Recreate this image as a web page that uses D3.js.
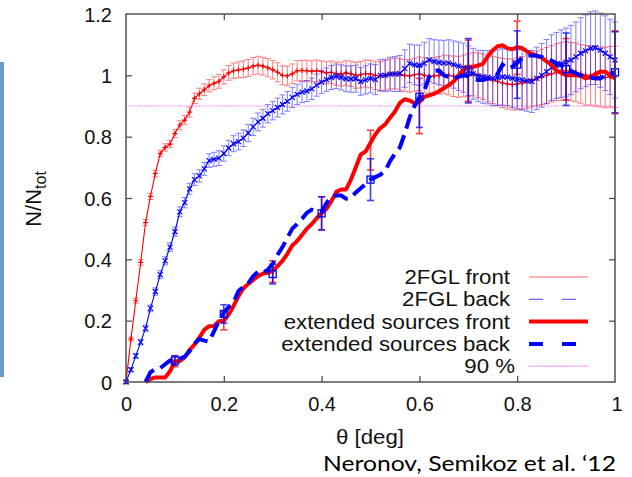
<!DOCTYPE html>
<html><head><meta charset="utf-8">
<script src="https://cdn.jsdelivr.net/npm/d3@7"></script>
<style>body{margin:0;background:#fff;overflow:hidden} svg{display:block}</style>
</head><body>
<script>
// ---------------- data ----------------
const theta = [0.00,0.01,0.02,0.03,0.04,0.05,0.06,0.07,0.08,0.09,
0.10,0.11,0.12,0.13,0.14,0.15,0.16,0.17,0.18,0.19,
0.20,0.21,0.22,0.23,0.24,0.25,0.26,0.27,0.28,0.29,
0.30,0.31,0.32,0.33,0.34,0.35,0.36,0.37,0.38,0.39,
0.40,0.41,0.42,0.43,0.44,0.45,0.46,0.47,0.48,0.49,
0.50,0.51,0.52,0.53,0.54,0.55,0.56,0.57,0.58,0.59,
0.60,0.61,0.62,0.63,0.64,0.65,0.66,0.67,0.68,0.69,
0.70,0.71,0.72,0.73,0.74,0.75,0.76,0.77,0.78,0.79,
0.80,0.81,0.82,0.83,0.84,0.85,0.86,0.87,0.88,0.89,
0.90,0.91,0.92,0.93,0.94,0.95,0.96,0.97,0.98,0.99,1.00];

const fglFront = [0,0.14,0.265,0.39,0.52,0.605,0.68,0.745,0.765,0.776,
0.81,0.838,0.854,0.88,0.925,0.94,0.953,0.966,0.974,0.98,
0.995,1.008,1.015,1.018,1.02,1.024,1.03,1.033,1.03,1.025,
1.018,1.01,1.0,0.998,1.005,1.015,1.016,1.015,1.013,1.015,
1.012,1.008,1.01,1.006,1.004,1.008,1.005,1.0,1.002,1.006,
1.004,1.0,0.997,1.0,1.004,1.006,1.003,1.0,0.998,1.002,
1.005,1.0,0.996,0.998,1.0,1.003,1.0,0.997,0.995,0.998,
1.0,1.004,1.0,0.996,0.99,0.985,0.98,0.975,0.972,0.97,
0.972,0.975,0.98,0.985,0.99,0.995,1.0,1.005,1.01,1.012,
1.015,1.012,1.01,1.005,1.0,1.0,0.998,0.995,0.993,0.995,0.995];

const fglFrontErr = [0.005,0.006,0.008,0.009,0.01,0.01,0.011,0.011,0.012,0.012,
0.013,0.014,0.015,0.016,0.017,0.018,0.019,0.02,0.021,0.022,
0.023,0.024,0.025,0.026,0.027,0.028,0.028,0.029,0.029,0.03,
0.03,0.031,0.031,0.032,0.032,0.033,0.033,0.034,0.034,0.035,
0.035,0.036,0.037,0.038,0.039,0.04,0.041,0.042,0.043,0.044,
0.045,0.046,0.047,0.048,0.049,0.05,0.051,0.052,0.053,0.054,
0.055,0.057,0.058,0.06,0.061,0.063,0.064,0.066,0.067,0.068,
0.07,0.071,0.073,0.074,0.076,0.077,0.079,0.08,0.082,0.083,
0.085,0.086,0.087,0.088,0.089,0.09,0.091,0.092,0.093,0.094,
0.095,0.095,0.096,0.096,0.097,0.097,0.098,0.098,0.099,0.099,0.1];

const fglBack = [0,0.04,0.085,0.13,0.175,0.24,0.295,0.35,0.395,0.44,
0.49,0.555,0.585,0.63,0.66,0.672,0.695,0.722,0.726,0.73,
0.745,0.763,0.777,0.784,0.795,0.812,0.832,0.848,0.86,0.875,
0.885,0.895,0.905,0.915,0.928,0.938,0.945,0.949,0.956,0.968,
0.978,0.986,0.993,0.997,0.993,0.989,0.988,0.989,0.98,0.985,
0.99,0.986,1.0,1.0,1.004,1.004,1.006,1.022,1.039,1.034,
1.033,1.04,1.05,1.045,1.042,1.04,1.04,1.035,1.03,1.025,
1.015,1.005,0.998,0.995,0.994,0.99,0.993,0.995,0.994,0.99,
0.987,0.985,0.982,0.98,0.99,1.0,1.012,1.025,1.032,1.038,
1.043,1.05,1.06,1.072,1.08,1.088,1.09,1.082,1.072,1.06,1.05];

const fglBackErr = [0.005,0.007,0.008,0.009,0.01,0.011,0.012,0.013,0.013,0.014,
0.015,0.016,0.017,0.018,0.019,0.02,0.021,0.022,0.023,0.024,
0.025,0.025,0.026,0.027,0.027,0.028,0.028,0.029,0.029,0.03,
0.03,0.031,0.031,0.032,0.033,0.033,0.034,0.034,0.035,0.036,
0.037,0.038,0.039,0.04,0.041,0.042,0.043,0.044,0.045,0.046,
0.047,0.049,0.051,0.053,0.055,0.057,0.059,0.061,0.063,0.065,
0.066,0.068,0.07,0.071,0.073,0.074,0.076,0.077,0.079,0.08,
0.081,0.083,0.084,0.086,0.087,0.089,0.09,0.092,0.093,0.095,
0.096,0.098,0.099,0.101,0.102,0.104,0.105,0.107,0.108,0.11,
0.111,0.113,0.114,0.116,0.117,0.119,0.12,0.121,0.122,0.123,0.124];

// extended sources start at theta = 0.04
const extFront = [0.0,0.01,0.015,0.015,0.015,0.035,
0.068,0.068,0.08,0.105,0.122,0.145,0.17,0.182,0.183,0.198,
0.2,0.22,0.248,0.28,0.305,0.32,0.333,0.345,0.354,0.356,
0.362,0.378,0.395,0.418,0.445,0.46,0.48,0.5,0.515,0.534,
0.55,0.565,0.59,0.62,0.628,0.628,0.66,0.7,0.742,0.752,
0.78,0.808,0.828,0.84,0.862,0.882,0.91,0.922,0.918,0.909,
0.913,0.93,0.935,0.94,0.948,0.958,0.968,0.98,1.0,1.018,
1.028,1.028,1.032,1.038,1.062,1.082,1.095,1.098,1.088,1.085,
1.092,1.089,1.078,1.07,1.064,1.058,1.045,1.036,1.016,1.008,
1.0,1.0,1.0,0.998,0.99,0.994,1.005,1.012,1.012,1.0,0.99];

const extBack = [0.0,0.032,0.042,0.045,0.058,0.07,
0.07,0.076,0.083,0.1,0.125,0.14,0.135,0.132,0.165,0.2,
0.225,0.245,0.26,0.297,0.31,0.322,0.345,0.36,0.356,0.366,
0.385,0.415,0.44,0.47,0.5,0.515,0.532,0.552,0.562,0.557,
0.556,0.583,0.605,0.608,0.608,0.598,0.6,0.618,0.632,0.645,
0.66,0.668,0.676,0.688,0.72,0.745,0.765,0.81,0.862,0.9,
0.928,0.95,0.995,1.014,1.016,1.0,0.995,0.99,0.995,1.0,
0.997,0.99,0.985,0.985,0.99,0.99,1.005,1.035,1.022,1.028,
1.04,1.058,1.064,1.065,1.064,1.06,1.053,1.048,1.04,1.032,
1.025,1.015,1.006,1.0,0.996,0.993,0.99,0.99,1.0,1.005,1.01];

const extErrTheta = [0.1,0.2,0.3,0.4,0.5,0.6,0.7,0.8,0.9,1.0];
const extFrontErrC = [0.068,0.2,0.36,0.55,0.756,0.9,1.015,1.09,1.02,1.01];
const extFrontErr = [0.018,0.03,0.035,0.054,0.065,0.09,0.1,0.087,0.1,0.135];
const extBackErrC = [0.07,0.222,0.352,0.55,0.66,0.93,1.015,1.035,1.02,1.01];
const extBackErr = [0.015,0.03,0.032,0.054,0.068,0.1,0.105,0.11,0.118,0.132];

const level90 = 0.9;
const xTicks = [0,0.2,0.4,0.6,0.8,1];
const xTickLabels = ["0","0.2","0.4","0.6","0.8","1"];
const yTicks = [0,0.2,0.4,0.6,0.8,1,1.2];
const yTickLabels = ["0","0.2","0.4","0.6","0.8","1","1.2"];
const legendLabels = ["2FGL front","2FGL back","extended sources front","extended sources back","90 %"];

// ---------------- drawing ----------------
const W = 632, H = 477;
const svg = d3.select("body").append("svg").attr("width", W).attr("height", H);
const x = d3.scaleLinear().domain([0,1]).range([126,615]);
const y = d3.scaleLinear().domain([0,1.2]).range([382,14]);
const FONT = "'Liberation Sans', Arial, Helvetica, sans-serif";
const SX = 1.06;
const RED = "#ff0000", BLUE = "#0000ff";

// left decorative bar
svg.append("rect").attr("x",0).attr("y",62).attr("width",4).attr("height",315).attr("fill","#6c9bd2");

// axes
const axisColor = "#444";
function styleAxis(g, labels){
  g.select(".domain").remove();
  g.selectAll(".tick line").attr("stroke",axisColor).attr("stroke-width",1.2);
  g.selectAll(".tick text").attr("font-family",FONT).attr("font-size",20).attr("fill","#111");
  if(!labels) g.selectAll(".tick text").remove();
}
const gL = svg.append("g").attr("transform","translate(126,0)")
  .call(d3.axisLeft(y).tickValues(yTicks).tickSize(-6).tickPadding(14).tickFormat((d,i)=>yTickLabels[i]));
styleAxis(gL,true);
gL.selectAll(".tick text").attr("dy","0.36em");
const gR = svg.append("g").attr("transform","translate(615,0)")
  .call(d3.axisRight(y).tickValues(yTicks.slice(1,-1)).tickSize(-6));
styleAxis(gR,false);
const gB = svg.append("g").attr("transform","translate(0,382)")
  .call(d3.axisBottom(x).tickValues(xTicks.slice(0,-1)).tickSize(-6).tickPadding(15).tickFormat((d,i)=>xTickLabels[i]));
styleAxis(gB,true);
// label for 1 at the right edge (tick coincides with the frame)
gB.append("text").attr("x",x(1)+2).attr("y",15).attr("dy","0.71em").attr("text-anchor","middle")
  .attr("font-family",FONT).attr("font-size",20).attr("fill","#111").text(xTickLabels[5]);
gB.selectAll(".tick").filter(d=>d===0).select("line").remove();
const gT = svg.append("g").attr("transform","translate(0,14)")
  .call(d3.axisTop(x).tickValues(xTicks.slice(1,-1)).tickSize(-6));
styleAxis(gT,false);
gL.selectAll(".tick").filter(d=>d===0||d===1.2).select("line").remove();

// 90% line
svg.append("line").attr("x1",x(0)).attr("x2",x(1)).attr("y1",y(level90)).attr("y2",y(level90))
  .attr("stroke","#ff66ff").attr("stroke-width",1).attr("stroke-dasharray","1.5,1").attr("opacity",0.85);

// helper: error bars
function errorBars(xs, cs, es, color, width, cap, opacity){
  const g = svg.append("g").attr("stroke",color).attr("stroke-width",width).attr("opacity",opacity).attr("fill","none");
  xs.forEach((t,i)=>{
    const px = x(t), y1 = y(cs[i]-es[i]), y2 = y(cs[i]+es[i]);
    g.append("line").attr("x1",px).attr("x2",px).attr("y1",y1).attr("y2",y2);
    g.append("line").attr("x1",px-cap).attr("x2",px+cap).attr("y1",y1).attr("y2",y1);
    g.append("line").attr("x1",px-cap).attr("x2",px+cap).attr("y1",y2).attr("y2",y2);
  });
}
const line = d3.line().x(d=>x(d[0])).y(d=>y(d[1]));

// 2FGL front
errorBars(theta, fglFront, fglFrontErr, RED, 1, 3, 0.5);
svg.append("path").datum(theta.map((t,i)=>[t,fglFront[i]])).attr("d",line)
  .attr("fill","none").attr("stroke",RED).attr("stroke-width",1.1);
svg.append("g").attr("stroke",RED).attr("stroke-width",1.2).selectAll("path")
  .data(theta.map((t,i)=>[t,fglFront[i]])).join("path")
  .attr("d",d=>`M${x(d[0])-2.5},${y(d[1])}h5M${x(d[0])},${y(d[1])-2.5}v5`);

// 2FGL back
errorBars(theta, fglBack, fglBackErr, BLUE, 1, 3, 0.5);
svg.append("path").datum(theta.map((t,i)=>[t,fglBack[i]])).attr("d",line)
  .attr("fill","none").attr("stroke",BLUE).attr("stroke-width",1.1);
svg.append("g").attr("stroke",BLUE).attr("stroke-width",1.2).selectAll("path")
  .data(theta.map((t,i)=>[t,fglBack[i]])).join("path")
  .attr("d",d=>`M${x(d[0])-2.5},${y(d[1])-2.5}l5,5M${x(d[0])-2.5},${y(d[1])+2.5}l5,-5`);

// extended sources front
const thetaExt = theta.slice(4);
errorBars(extErrTheta, extFrontErrC, extFrontErr, RED, 1.6, 3.5, 0.75);
svg.append("path").datum(thetaExt.map((t,i)=>[t,extFront[i]])).attr("d",line)
  .attr("fill","none").attr("stroke",RED).attr("stroke-width",4).attr("stroke-linejoin","round");

// extended sources back
errorBars(extErrTheta, extBackErrC, extBackErr, BLUE, 1.6, 3.5, 0.75);
svg.append("path").datum(thetaExt.map((t,i)=>[t,extBack[i]])).attr("d",line)
  .attr("fill","none").attr("stroke",BLUE).attr("stroke-width",4).attr("stroke-dasharray","15,7");
svg.append("g").attr("stroke",BLUE).attr("stroke-width",1.3).attr("fill","none").selectAll("rect")
  .data(extErrTheta.map((t,i)=>[t,extBackErrC[i]])).join("rect")
  .attr("x",d=>x(d[0])-3.5).attr("y",d=>y(d[1])-3.5).attr("width",7).attr("height",7);

// frame
svg.append("rect").attr("x",126).attr("y",14).attr("width",489).attr("height",368)
  .attr("fill","none").attr("stroke",axisColor).attr("stroke-width",1.4);

// legend
const legY0 = 284, legDY = 22.3;
const legStyles = [
  {c:RED, w:1.2, d:null, o:0.6},
  {c:BLUE, w:1.2, d:"14,19", o:0.6},
  {c:RED, w:4, d:null, o:1},
  {c:BLUE, w:4, d:"14,19", o:1},
  {c:"#ff66ff", w:1.2, d:"1.5,1", o:0.85}
];
legendLabels.forEach((lab,i)=>{
  const yy = legY0 + i*legDY;
  const tx = i===4 ? 515 : 510;
  svg.append("text").attr("transform",`translate(${tx},${yy}) scale(${SX},1)`)
    .attr("text-anchor","end").attr("font-family",FONT).attr("font-size",21).attr("fill","#111").text(lab);
  const s = legStyles[i];
  svg.append("line").attr("x1",529).attr("x2",588).attr("y1",yy-7).attr("y2",yy-7)
    .attr("stroke",s.c).attr("stroke-width",s.w).attr("opacity",s.o)
    .attr("stroke-dasharray",s.d);
});

// axis labels
svg.append("text").attr("transform",`translate(370,444) scale(${SX},1)`).attr("text-anchor","middle")
  .attr("font-family",FONT).attr("font-size",21).attr("fill","#111").text("θ [deg]");
const yl = svg.append("text").attr("transform","translate(41,199) rotate(-90)").attr("text-anchor","middle")
  .attr("font-family",FONT).attr("font-size",22).attr("fill","#111");
yl.append("tspan").text("N/N");
yl.append("tspan").attr("font-size",16).attr("dy",5).text("tot");

// citation
svg.append("text").attr("x",323).attr("y",471).attr("font-family","Lato, 'Open Sans', sans-serif")
  .attr("font-size",21).attr("fill","#000").attr("textLength",293).attr("lengthAdjust","spacingAndGlyphs")
  .text("Neronov, Semikoz et al. \u201812");
</script>
</body></html>
